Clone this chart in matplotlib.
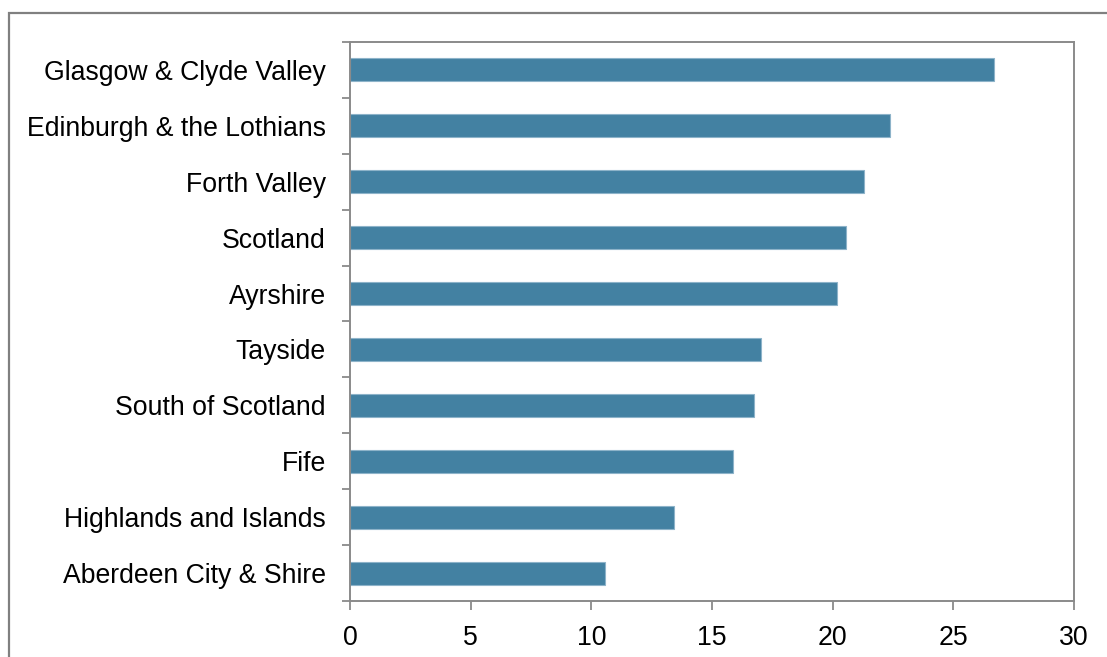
import matplotlib
matplotlib.use("Agg")
import matplotlib.pyplot as plt
from matplotlib.patches import Rectangle
import numpy as np

categories = ["Glasgow & Clyde Valley", "Edinburgh & the Lothians", "Forth Valley",
              "Scotland", "Ayrshire", "Tayside", "South of Scotland", "Fife",
              "Highlands and Islands", "Aberdeen City & Shire"]
values = [26.69, 22.39, 21.31, 20.55, 20.19, 17.05, 16.74, 15.88, 13.41, 10.57]
xticks = [0, 5, 10, 15, 20, 25, 30]

plt.rcParams['font.family'] = ['Liberation Sans', 'DejaVu Sans']

W, H = 1107, 657
fig = plt.figure(figsize=(W / 100, H / 100), dpi=100)
ax = fig.add_axes([350 / W, (H - 601) / H, 724 / W, 559 / H])

pos = np.arange(len(categories))
ax.barh(pos, values, height=0.41, color='#4381a2', edgecolor='#8db3c9', linewidth=0.8)
ax.set_ylim(len(categories) - 0.5, -0.5)
ax.set_xlim(0, 30)

grey = '#8a8a8a'
for s in ax.spines.values():
    s.set_color(grey)
    s.set_linewidth(1.4)

ax.set_xticks(xticks)
ax.set_xticklabels([str(t) for t in xticks], fontsize=19.2)
ax.tick_params(axis='x', direction='out', length=6.5, width=1.3, color=grey, pad=11)

ax.set_yticks(np.arange(len(categories) + 1) - 0.5)
ax.set_yticklabels([''] * (len(categories) + 1))
ax.tick_params(axis='y', which='major', direction='out', length=6, width=1.3, color=grey)
ax.set_yticks(pos, minor=True)
ax.set_yticklabels(categories, minor=True, fontsize=19.2)
ax.tick_params(axis='y', which='minor', length=0, pad=17.5)

fig.patches.append(Rectangle((9 / W, -0.2), 1.2, (H - 13) / H + 0.2, transform=fig.transFigure,
                             fill=False, edgecolor='#808080', linewidth=1.6, figure=fig))

fig.savefig("out.png", dpi=100)
